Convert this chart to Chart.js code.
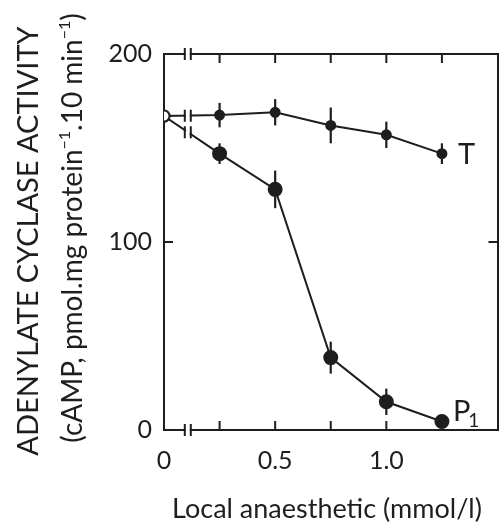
<!DOCTYPE html>
<html><head><meta charset="utf-8">
<script src="https://cdn.jsdelivr.net/npm/chart.js@4.4.1/dist/chart.umd.min.js"></script>
<style>
html,body{margin:0;padding:0;background:#fff;overflow:hidden;width:501px;height:525px}
#wrap{position:relative;width:506px;height:525px}
</style></head>
<body><div id="wrap"><canvas id="c" width="506" height="525"></canvas></div>
<script>
// ---- data ----
const concentrations = [0, 0.25, 0.5, 0.75, 1.0, 1.25];
const activityT  = [167, 167.5, 169, 162, 157, 147];
const errorT     = [0, 6.5, 7, 9.5, 7, 5.5];
const activityP1 = [167, 147, 128, 38.5, 15, 4.5];
const errorP1    = [0, 5.5, 10, 8.5, 7, 3];
const xTickValues = [0, 0.25, 0.5, 0.75, 1.0, 1.25, 1.5];
const xTickLabels = {0: '0', 0.5: '0.5', 1: '1.0'};
const yTickValues = [0, 100, 200];
const seriesNames = ['T', 'P'];
const yTitleLine1 = 'ADENYLATE CYCLASE ACTIVITY';
const yTitleLine2 = [['(cAMP, pmol.mg protein', false], ['\u22121', true], ['.10 min', false], ['\u22121', true], [')', false]];
const xTitle = 'Local anaesthetic (mmol/l)';
const breakAt = 0.107;

const INK = '#1e1e1e';
const FONT = 'Lato, "Open Sans", sans-serif';

const pts = arr => concentrations.map((x, i) => ({x, y: arr[i]}));
const pointBg = ctx => ctx.dataIndex === 0 ? '#fff' : INK;
const noPad = s => { s.paddingLeft = 0; s.paddingRight = 0; s.paddingTop = 0; s.paddingBottom = 0; };

const decor = {
  id: 'decor',
  beforeDatasetsDraw(chart) {
    const {ctx} = chart;
    const xs = chart.scales.x, ys = chart.scales.y;
    ctx.save();
    ctx.strokeStyle = INK; ctx.lineWidth = 2.2; ctx.lineCap = 'butt';
    [[activityT, errorT], [activityP1, errorP1]].forEach(([vals, errs]) => {
      vals.forEach((v, i) => {
        if (!errs[i]) return;
        const px = xs.getPixelForValue(concentrations[i]);
        ctx.beginPath();
        ctx.moveTo(px, ys.getPixelForValue(v - errs[i]));
        ctx.lineTo(px, ys.getPixelForValue(v + errs[i]));
        ctx.stroke();
      });
    });
    ctx.restore();
  },
  afterDraw(chart) {
    const {ctx, chartArea: ca} = chart;
    const xs = chart.scales.x, ys = chart.scales.y;
    ctx.save();
    ctx.strokeStyle = INK; ctx.lineWidth = 2;
    // inward ticks
    const tl = 9;
    xTickValues.forEach(v => {
      if (v === 0 || v === 1.5) return;
      const px = xs.getPixelForValue(v);
      ctx.beginPath();
      ctx.moveTo(px, ca.bottom); ctx.lineTo(px, ca.bottom - tl);
      ctx.moveTo(px, ca.top); ctx.lineTo(px, ca.top + tl);
      ctx.stroke();
    });
    yTickValues.forEach(v => {
      if (v === 0 || v === 200) return;
      const py = ys.getPixelForValue(v);
      ctx.beginPath();
      ctx.moveTo(ca.left, py); ctx.lineTo(ca.left + tl, py);
      ctx.moveTo(ca.right, py); ctx.lineTo(ca.right - tl, py);
      ctx.stroke();
    });
    // break marks
    const bx = xs.getPixelForValue(breakAt);
    const drawBreak = (y, h) => {
      ctx.fillStyle = '#fff';
      ctx.fillRect(bx - 2, y - 2, 4, 4);
      ctx.beginPath();
      ctx.moveTo(bx - 3, y - h); ctx.lineTo(bx - 3, y + h);
      ctx.moveTo(bx + 3, y - h); ctx.lineTo(bx + 3, y + h);
      ctx.stroke();
    };
    drawBreak(ca.top, 6);
    drawBreak(ca.bottom, 6);
    [activityT, activityP1].forEach(vals => {
      const x0 = xs.getPixelForValue(concentrations[0]), x1 = xs.getPixelForValue(concentrations[1]);
      const y0 = ys.getPixelForValue(vals[0]), y1 = ys.getPixelForValue(vals[1]);
      const t = (bx - x0) / (x1 - x0);
      drawBreak(y0 + t * (y1 - y0), 6);
    });
    // series labels
    ctx.fillStyle = INK;
    ctx.textBaseline = 'alphabetic'; ctx.textAlign = 'left';
    const lastI = concentrations.length - 1;
    const lx = xs.getPixelForValue(concentrations[lastI]) + 16;
    ctx.font = '29px ' + FONT;
    ctx.fillText(seriesNames[0], lx, ys.getPixelForValue(activityT[lastI]) + 10);
    const py = ys.getPixelForValue(activityP1[lastI]) - 1;
    ctx.fillText(seriesNames[1], lx - 5, py);
    const pw = ctx.measureText(seriesNames[1]).width;
    ctx.font = '19px ' + FONT;
    ctx.fillText('1', lx - 5 + pw - 2, py + 6);
    // y titles
    ctx.save();
    ctx.translate(38, 241);
    ctx.rotate(-Math.PI / 2);
    ctx.font = '29px ' + FONT;
    ctx.textAlign = 'center';
    ctx.fillText(yTitleLine1, 0, 0);
    ctx.restore();
    ctx.save();
    ctx.translate(82, 228);
    ctx.rotate(-Math.PI / 2);
    ctx.textAlign = 'left';
    const big = '28px ' + FONT, small = '16px ' + FONT;
    let total = 0;
    yTitleLine2.forEach(([s, sup]) => { ctx.font = sup ? small : big; total += ctx.measureText(s).width; });
    let cx = -total / 2;
    yTitleLine2.forEach(([s, sup]) => {
      ctx.font = sup ? small : big;
      ctx.fillText(s, cx, sup ? -12 : 0);
      cx += ctx.measureText(s).width;
    });
    ctx.restore();
    // x title
    ctx.font = '27px ' + FONT;
    ctx.textAlign = 'center';
    ctx.fillText(xTitle, 327, 518);
    ctx.restore();
  }
};

new Chart(document.getElementById('c'), {
  type: 'line',
  data: {
    datasets: [
      {label: 'T', data: pts(activityT), borderColor: INK, borderWidth: 2, tension: 0,
       pointRadius: ctx => ctx.dataIndex === 0 ? 5.5 : 4.5, pointBackgroundColor: pointBg,
       pointBorderColor: INK, pointBorderWidth: 2},
      {label: 'P1', data: pts(activityP1), borderColor: INK, borderWidth: 2, tension: 0,
       pointRadius: ctx => ctx.dataIndex === 0 ? 5.5 : 6.5, pointBackgroundColor: pointBg,
       pointBorderColor: INK, pointBorderWidth: 2}
    ]
  },
  options: {
    responsive: false, animation: false,
    layout: {padding: {left: 0, top: 54, right: 1, bottom: 0}},
    plugins: {legend: {display: false}, tooltip: {enabled: false}},
    scales: {
      x: {type: 'linear', min: 0, max: 1.5, position: 'bottom',
          afterFit(s) { s.height = 95; noPad(s); },
          afterBuildTicks(s) { s.ticks = xTickValues.map(v => ({value: v})); },
          grid: {display: false, drawTicks: false},
          border: {display: true, color: INK, width: 2},
          ticks: {autoSkip: false, maxRotation: 0, padding: 16, color: INK,
                  font: {family: FONT, size: 25}, callback: v => xTickLabels[v] ?? ''}},
      x2: {type: 'linear', min: 0, max: 1.5, position: 'top',
           afterFit(s) { s.height = 0; noPad(s); },
           grid: {display: false, drawTicks: false},
           border: {display: true, color: INK, width: 2},
           ticks: {display: false}},
      y: {type: 'linear', min: 0, max: 200, position: 'left',
          afterFit(s) { s.width = 164; noPad(s); },
          afterBuildTicks(s) { s.ticks = yTickValues.map(v => ({value: v})); },
          grid: {display: false, drawTicks: false},
          border: {display: true, color: INK, width: 2},
          ticks: {padding: 12, color: INK, font: {family: FONT, size: 25}}},
      y2: {type: 'linear', min: 0, max: 200, position: 'right',
           afterFit(s) { s.width = 0; noPad(s); },
           grid: {display: false, drawTicks: false},
           border: {display: true, color: INK, width: 2},
           ticks: {display: false}}
    }
  },
  plugins: [decor]
});
</script>
</body></html>
